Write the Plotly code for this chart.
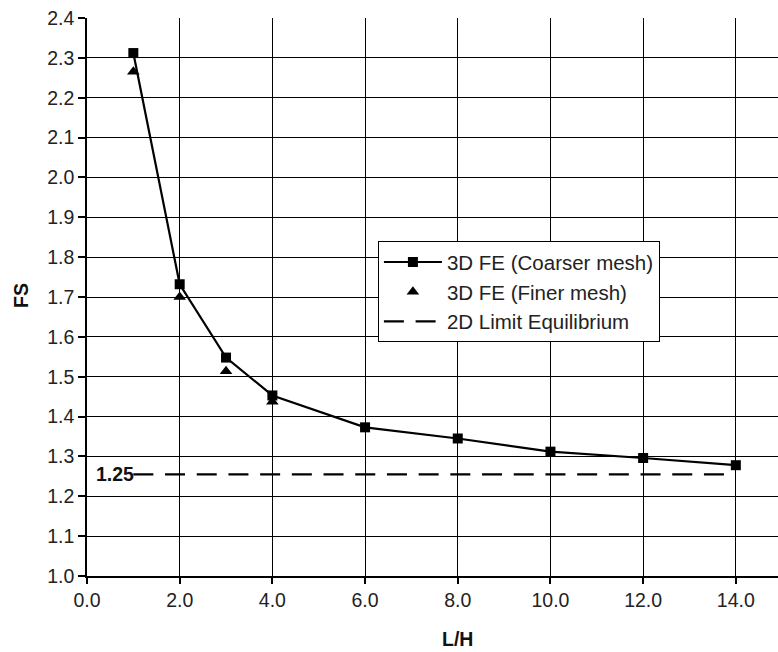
import plotly.graph_objects as go

coarse_x = [1, 2, 3, 4, 6, 8, 10, 12, 14]
coarse_fs = [2.312, 1.732, 1.548, 1.453, 1.373, 1.345, 1.312, 1.296, 1.278]
fine_x = [1, 2, 3, 4]
fine_fs = [2.265, 1.700, 1.514, 1.437]
le_x = [1, 14]
le_fs = [1.255, 1.255]

x_ticks = [0, 2, 4, 6, 8, 10, 12, 14]
x_tick_text = ["0.0", "2.0", "4.0", "6.0", "8.0", "10.0", "12.0", "14.0"]
y_ticks = [1.0, 1.1, 1.2, 1.3, 1.4, 1.5, 1.6, 1.7, 1.8, 1.9, 2.0, 2.1, 2.2, 2.3, 2.4]
y_tick_text = ["%.1f" % v for v in y_ticks]

FONT = "Liberation Sans, Arial, sans-serif"
FS = 19.5

fig = go.Figure()
fig.add_trace(go.Scatter(
    x=coarse_x, y=coarse_fs, mode="lines+markers", name="3D FE (Coarser mesh)",
    line=dict(color="black", width=2.2),
    marker=dict(symbol="square", size=10, color="black"),
))
fig.add_trace(go.Scatter(
    x=fine_x, y=fine_fs, mode="markers", name="3D FE (Finer mesh)",
    marker=dict(symbol="triangle-up", size=11, color="black"),
))
fig.add_trace(go.Scatter(
    x=le_x, y=le_fs, mode="lines", name="2D Limit Equilibrium",
    line=dict(color="black", width=2.4, dash="20px,11.7px"),
))

fig.add_annotation(
    x=le_x[0], y=le_fs[0], xref="x", yref="y", text="<b>1.25</b>",
    showarrow=False, xanchor="right", yanchor="middle", xshift=3,
    font=dict(family=FONT, size=FS, color="#111"),
)
fig.add_annotation(
    x=-0.0955, y=0.502, xref="paper", yref="paper", text="<b>FS</b>",
    showarrow=False, textangle=-90, xanchor="center", yanchor="middle",
    font=dict(family=FONT, size=FS, color="#111"),
)
fig.add_annotation(
    x=8, y=-0.113, xref="x", yref="paper", text="<b>L/H</b>",
    showarrow=False, xanchor="center", yanchor="middle",
    font=dict(family=FONT, size=FS, color="#111"),
)

fig.update_layout(
    width=778, height=652,
    margin=dict(l=87, r=0, t=18, b=76),
    paper_bgcolor="white", plot_bgcolor="white",
    font=dict(family=FONT, size=FS, color="#222"),
    showlegend=True,
    legend=dict(
        x=0.421, y=0.600, xanchor="left", yanchor="top",
        bgcolor="white", bordercolor="black", borderwidth=1,
        font=dict(family=FONT, size=20.5, color="#222"),
        tracegroupgap=0, itemwidth=58,
    ),
    xaxis=dict(
        range=[0, 14.91], tickvals=x_ticks, ticktext=x_tick_text,
        showgrid=True, gridcolor="black", gridwidth=1.3,
        showline=True, linecolor="black", linewidth=1.5,
        ticks="outside", ticklen=6, tickcolor="black", tickwidth=1.5,
        zeroline=False, automargin=False,
    ),
    yaxis=dict(
        range=[1.0, 2.4], tickvals=y_ticks, ticktext=y_tick_text,
        showgrid=True, gridcolor="black", gridwidth=1.3,
        showline=True, linecolor="black", linewidth=1.5,
        ticks="outside", ticklen=7, tickcolor="black", tickwidth=1.5,
        zeroline=False, automargin=False,
    ),
)

fig.write_html("out.html", config={"displayModeBar": False})

# remove the browser's default 8px body margin so the figure sits at the page origin
with open("out.html", "r", encoding="utf-8") as f:
    html = f.read()
html = html.replace("<body>", '<body style="margin:0;padding:0;overflow:hidden">', 1)
with open("out.html", "w", encoding="utf-8") as f:
    f.write(html)
